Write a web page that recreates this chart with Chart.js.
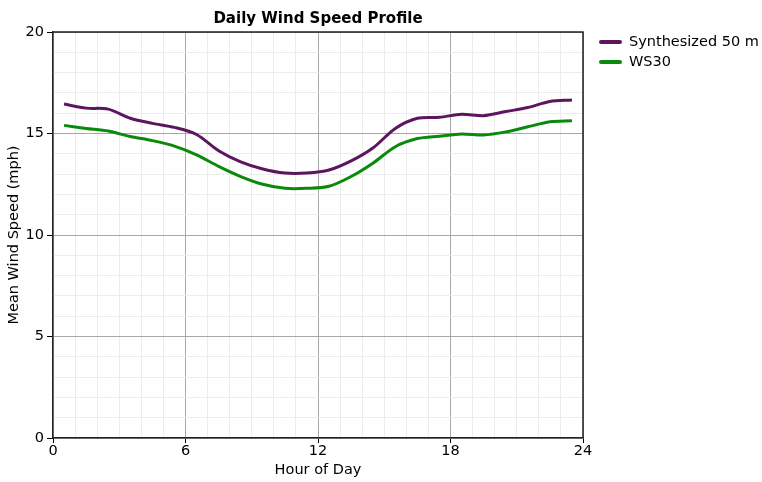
<!DOCTYPE html>
<html>
<head>
<meta charset="utf-8">
<script src="https://cdn.jsdelivr.net/npm/chart.js@4/dist/chart.umd.min.js"></script>
<style>
  html, body { margin: 0; padding: 0; background: #fff; }
  #wrap { width: 762px; height: 482px; position: relative; }
</style>
</head>
<body>
<div id="wrap"><canvas id="windChart" width="762" height="482"></canvas></div>
<script>
// hour of day (bin centres)
const hours = [0.5, 1.5, 2.5, 3.5, 4.5, 5.5, 6.5, 7.5, 8.5, 9.5, 10.5, 11.5,
               12.5, 13.5, 14.5, 15.5, 16.5, 17.5, 18.5, 19.5, 20.5, 21.5, 22.5, 23.5];
const synth50 = [16.45, 16.25, 16.2, 15.75, 15.5, 15.3, 14.95, 14.15, 13.6, 13.25, 13.05, 13.05,
                 13.2, 13.65, 14.3, 15.25, 15.75, 15.8, 15.95, 15.88, 16.08, 16.28, 16.58, 16.65];
const ws30 = [15.4, 15.25, 15.12, 14.85, 14.65, 14.38, 13.95, 13.38, 12.88, 12.5, 12.3, 12.3,
              12.4, 12.88, 13.55, 14.35, 14.75, 14.87, 14.98, 14.93, 15.08, 15.33, 15.58, 15.63];
const seriesNames = ['Synthesized 50 m', 'WS30'];
const seriesColors = ['#5c1660', '#0a8a0a'];

const chartTitle = 'Daily Wind Speed Profile';
const xTitle = 'Hour of Day';
const yTitle = 'Mean Wind Speed (mph)';
const font = '"DejaVu Sans", Verdana, sans-serif';
const labelSize = 14.5;

function toPoints(vals) {
    return hours.map((h, i) => ({ x: h, y: vals[i] }));
}

// title centred on plot area + legend on the right
const decorations = {
    id: 'decorations',
    afterDraw(chart) {
        const ctx = chart.ctx;
        const area = chart.chartArea;
        ctx.save();
        ctx.fillStyle = '#000';
        ctx.font = 'bold 15px ' + font;
        ctx.textAlign = 'center';
        ctx.textBaseline = 'middle';
        ctx.fillText(chartTitle, (area.left + area.right) / 2, 19);

        ctx.font = labelSize + 'px ' + font;
        ctx.textAlign = 'left';
        chart.data.datasets.forEach((ds, i) => {
            const y = 42 + i * 20;
            ctx.strokeStyle = ds.borderColor;
            ctx.lineWidth = 4;
            ctx.lineCap = 'round';
            ctx.beginPath();
            ctx.moveTo(601, y);
            ctx.lineTo(620, y);
            ctx.stroke();
            ctx.fillStyle = '#000';
            ctx.fillText(ds.label, 629, y);
        });
        ctx.restore();
    }
};

// top and right border of the plot area
const plotFrame = {
    id: 'plotFrame',
    beforeDatasetsDraw(chart) {
        const ctx = chart.ctx;
        const a = chart.chartArea;
        ctx.save();
        ctx.strokeStyle = '#222';
        ctx.lineWidth = 1.5;
        ctx.beginPath();
        ctx.moveTo(a.left, a.top);
        ctx.lineTo(a.right, a.top);
        ctx.lineTo(a.right, a.bottom);
        ctx.stroke();
        ctx.restore();
    }
};

function gridColor(ctx, major) {
    const v = ctx.tick ? ctx.tick.value : 0;
    return v % major === 0 ? '#a8a8a8' : '#ececec';
}

new Chart(document.getElementById('windChart').getContext('2d'), {
    type: 'line',
    data: {
        datasets: [
            { label: seriesNames[0], data: toPoints(synth50), borderColor: seriesColors[0], borderWidth: 3, pointRadius: 0, tension: 0.3, fill: false },
            { label: seriesNames[1], data: toPoints(ws30), borderColor: seriesColors[1], borderWidth: 3, pointRadius: 0, tension: 0.3, fill: false }
        ]
    },
    options: {
        responsive: false,
        animation: false,
        layout: { padding: { left: 0, right: 179, top: 32, bottom: 0 } },
        plugins: {
            legend: { display: false },
            title: { display: false },
            tooltip: { enabled: false }
        },
        scales: {
            x: {
                type: 'linear',
                min: 0,
                max: 24,
                afterFit(scale) { scale.height = 44; },
                ticks: {
                    stepSize: 1,
                    autoSkip: false,
                    maxRotation: 0,
                    color: '#000',
                    font: { family: font, size: labelSize },
                    padding: 0,
                    callback: v => (v % 6 === 0 ? v : '')
                },
                grid: {
                    color: ctx => gridColor(ctx, 6),
                    lineWidth: 1,
                    tickLength: 5,
                    tickColor: ctx => (ctx.tick && ctx.tick.value % 6 === 0 ? '#000' : 'rgba(0,0,0,0)')
                },
                border: { color: '#222', width: 1.5 },
                title: { display: true, text: xTitle, color: '#000', font: { family: font, size: labelSize }, padding: { top: 0, bottom: 3 } }
            },
            y: {
                min: 0,
                max: 20,
                afterFit(scale) { scale.width = 53; },
                ticks: {
                    stepSize: 1,
                    autoSkip: false,
                    color: '#000',
                    font: { family: font, size: labelSize },
                    padding: 3,
                    callback: v => (v % 5 === 0 ? v : '')
                },
                grid: {
                    color: ctx => gridColor(ctx, 5),
                    lineWidth: 1,
                    tickLength: 6,
                    tickColor: ctx => (ctx.tick && ctx.tick.value % 5 === 0 ? '#000' : 'rgba(0,0,0,0)')
                },
                border: { color: '#222', width: 1.5 },
                title: { display: true, text: yTitle, color: '#000', font: { family: font, size: labelSize }, padding: { top: 6, bottom: 0 } }
            }
        }
    },
    plugins: [plotFrame, decorations]
});
</script>
</body>
</html>
